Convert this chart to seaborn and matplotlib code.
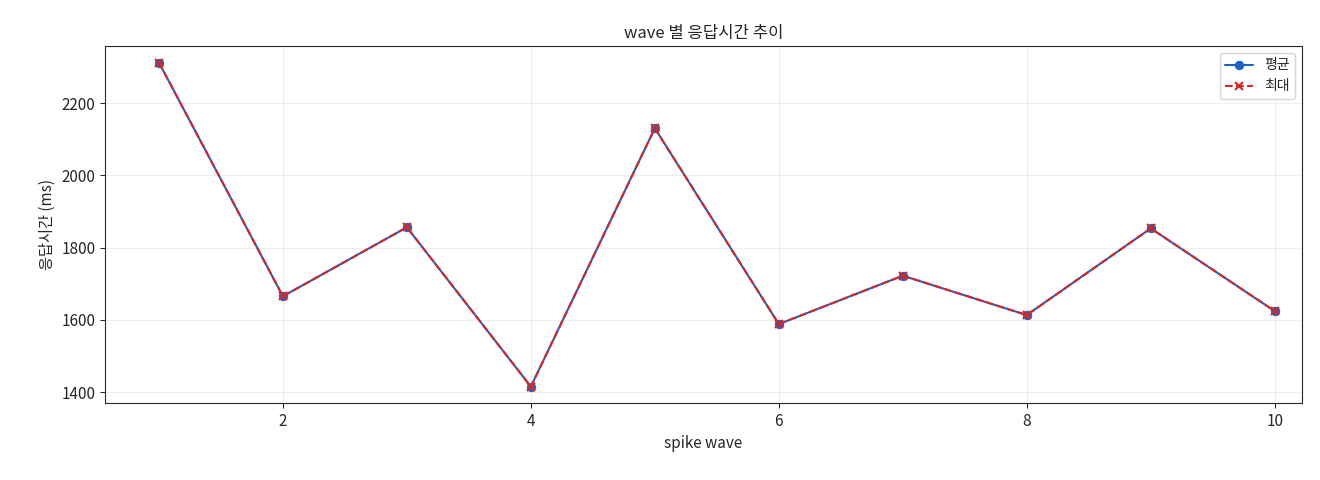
import matplotlib
matplotlib.use("Agg")
import matplotlib.pyplot as plt
import seaborn as sns
import pandas as pd

waves = [1, 2, 3, 4, 5, 6, 7, 8, 9, 10]
avg_ms = [2312, 1665, 1856, 1415, 2130, 1588, 1722, 1613, 1853, 1624]
max_ms = [2312, 1665, 1856, 1415, 2130, 1588, 1722, 1613, 1853, 1624]

sns.set_style("ticks")
plt.rcParams['font.family'] = ['Noto Sans CJK KR', 'DejaVu Sans']

fig = plt.figure(figsize=(13.2, 4.8), dpi=100)
ax = fig.add_axes([105/1320, 1-403/480, (1302-105)/1320, (403-46)/480])
df = pd.DataFrame({"wave": waves, "avg": avg_ms, "max": max_ms})
sns.lineplot(data=df, x="wave", y="avg", ax=ax, color="#1f62c4", label="평균")
sns.lineplot(data=df, x="wave", y="max", ax=ax, color="#d62728", label="최대")
l1, l2 = ax.lines[0], ax.lines[1]
l1.set(marker="o", markersize=6, markeredgecolor="#1f62c4", markerfacecolor="#1f62c4",
       linewidth=1.5, linestyle="-")
l2.set(marker="x", markersize=6, markeredgecolor="#d62728", markeredgewidth=1.5,
       linewidth=1.5, linestyle="--")
ax.set_xlim(0.565, 10.22)
ax.set_ylim(1369.6, 2357.8)
ax.set_xticks([2, 4, 6, 8, 10])
ax.set_yticks([1400, 1600, 1800, 2000, 2200])
ax.tick_params(labelsize=11)
ax.grid(True, alpha=0.3)
ax.set_xlabel("spike wave", fontsize=11)
ax.set_ylabel("응답시간 (ms)", fontsize=11)
ax.set_title("wave 별 응답시간 추이", fontsize=12)
ax.legend(handles=[l1, l2], labels=["평균", "최대"], loc="upper right")
fig.savefig("out.png", dpi=100)
